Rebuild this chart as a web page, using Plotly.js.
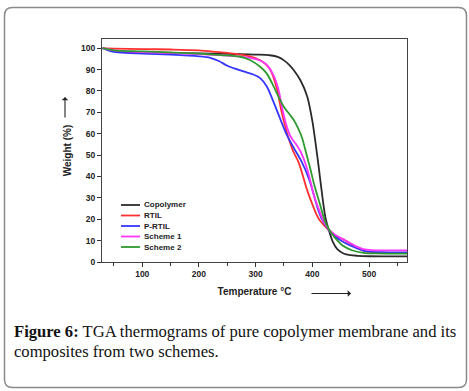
<!DOCTYPE html>
<html>
<head>
<meta charset="utf-8">
<script src="https://cdn.plot.ly/plotly-3.0.1.min.js"></script>
<style>
html,body{margin:0;padding:0;background:#fff;}
#chart{width:469px;height:391px;}
</style>
</head>
<body>
<div id="chart"></div>
<script>
// ---- Data ----
const seriesNames = ["Copolymer", "RTIL", "P-RTIL", "Scheme 1", "Scheme 2"];
const seriesColors = ["#2b2b2b", "#ff3030", "#3535ff", "#ff35ff", "#2f9a2f"];

const copolymerT = [30, 40, 50, 60, 80, 100, 150, 200, 250, 300, 325, 340, 350, 360, 367, 379, 391, 400, 405, 411, 418, 423, 429, 436, 444, 455, 467, 480, 500, 540, 567];
const copolymerW = [100, 99.2, 98.6, 98.3, 98.1, 98.0, 97.8, 97.6, 97.3, 97.0, 96.7, 95.8, 94.3, 92.0, 89.8, 85.0, 77.4, 66.0, 57.0, 45.0, 30.0, 21.0, 15.0, 9.5, 6.0, 4.0, 3.2, 2.9, 2.7, 2.6, 2.6];

const rtilT = [30, 50, 100, 150, 200, 230, 260, 290, 308, 318, 326, 332, 338, 346, 358, 366, 376, 391, 400, 406, 413, 422, 432, 440, 454, 474, 490, 510, 540, 567];
const rtilW = [100, 99.8, 99.6, 99.4, 99.0, 98.3, 97.5, 96.2, 94.4, 92.5, 89.8, 86.0, 80.5, 70.0, 58.0, 52.0, 46.5, 33.5, 27.0, 23.0, 19.5, 16.8, 14.0, 12.3, 10.7, 7.5, 5.3, 4.5, 4.3, 4.3];

const prtilT = [30, 40, 50, 70, 100, 150, 200, 220, 235, 250, 265, 280, 295, 308, 320, 332, 344, 355, 367, 380, 394, 402, 409, 416, 425, 432, 445, 454, 475, 495, 520, 567];
const prtilW = [100, 99.0, 98.3, 97.8, 97.5, 97.0, 96.2, 95.5, 94.0, 91.8, 90.3, 89.0, 87.8, 86.0, 82.0, 74.5, 66.5, 59.5, 53.5, 47.5, 39.0, 32.0, 25.5, 20.5, 16.5, 14.0, 11.0, 9.5, 6.8, 5.0, 4.6, 4.5];

const scheme1T = [30, 50, 100, 150, 200, 250, 290, 310, 322, 332, 340, 348, 356, 362, 370, 379, 391, 403, 411, 420, 430, 440, 454, 474, 490, 505, 530, 567];
const scheme1W = [100, 99.0, 98.2, 97.8, 97.2, 96.5, 95.5, 94.0, 91.5, 87.0, 81.0, 70.5, 62.5, 58.5, 55.5, 51.8, 43.5, 31.0, 25.0, 19.0, 15.0, 12.8, 10.7, 7.8, 6.0, 5.5, 5.4, 5.4];

const scheme2T = [30, 50, 100, 150, 200, 240, 273, 290, 308, 320, 332, 340, 350, 360, 367, 375, 382, 390, 397, 403, 414, 423, 430, 438, 454, 470, 490, 510, 567];
const scheme2W = [100, 99.0, 98.5, 98.0, 97.5, 96.8, 96.0, 94.5, 91.3, 88.0, 82.0, 77.5, 72.5, 69.0, 66.5, 62.5, 58.0, 50.0, 43.0, 36.5, 26.5, 18.5, 15.0, 12.0, 7.6, 5.5, 4.3, 4.0, 3.9];

const xTicks = [100, 200, 300, 400, 500];
const yTicks = [0, 10, 20, 30, 40, 50, 60, 70, 80, 90, 100];

const captionBold = "Figure 6:";
const captionLine1 = " TGA thermograms of pure copolymer membrane and its";
const captionLine2 = "composites from two schemes.";

// ---- Layout geometry ----
const W = 469, H = 391;
const mL = 102, mR = 62, mT = 39, mB = 129;
const pw = W - mL - mR, ph = H - mT - mB;
const fx = px => (px - mL) / pw;
const fy = py => (H - mB - py) / ph;

const xs = [copolymerT, rtilT, prtilT, scheme1T, scheme2T];
const ys = [copolymerW, rtilW, prtilW, scheme1W, scheme2W];

const traces = seriesNames.map((n, i) => ({
  type: "scatter", mode: "lines", name: n,
  x: xs[i], y: ys[i],
  line: {color: seriesColors[i], width: 1.8, shape: "spline", smoothing: 0.8},
  showlegend: false, hoverinfo: "skip"
}));

const sans = "Liberation Sans, Arial, sans-serif";
const serif = "Liberation Serif, Times New Roman, serif";

const shapes = [];
const annotations = [];

// custom compact legend
seriesNames.forEach((n, i) => {
  const yy = 205 + i * 10.5;
  shapes.push({type: "line", xref: "paper", yref: "paper",
    x0: fx(121), x1: fx(140), y0: fy(yy), y1: fy(yy),
    line: {color: seriesColors[i], width: 1.8}});
  annotations.push({xref: "paper", yref: "paper", x: fx(142), y: fy(yy),
    xanchor: "left", yanchor: "middle", showarrow: false, text: n,
    font: {family: sans, size: 8, color: "#222", weight: "bold"}});
});

// axis arrows
annotations.push({xref: "paper", yref: "paper", x: fx(65), y: fy(97), ax: 0, ay: 22,
  showarrow: true, arrowhead: 1, arrowsize: 1, arrowwidth: 1.1, arrowcolor: "#222", text: ""});
annotations.push({xref: "paper", yref: "paper", x: fx(351), y: fy(293.5), ax: -41, ay: 0,
  showarrow: true, arrowhead: 1, arrowsize: 1, arrowwidth: 1.1, arrowcolor: "#222", text: ""});

// caption
annotations.push({xref: "paper", yref: "paper", x: fx(12), y: fy(331), xanchor: "left", yanchor: "middle",
  showarrow: false, text: "<b>" + captionBold + "</b>" + captionLine1,
  font: {family: serif, size: 16.6, color: "#111"}});
annotations.push({xref: "paper", yref: "paper", x: fx(12), y: fy(351), xanchor: "left", yanchor: "middle",
  showarrow: false, text: captionLine2,
  font: {family: serif, size: 16.6, color: "#111"}});

// rounded frame
const r = 8, L = 4.5, T = 7.5, R = 466.5, B = 387.5;
const P = (px, py) => fx(px) + "," + fy(py);
shapes.push({type: "path", xref: "paper", yref: "paper", layer: "above",
  path: "M" + P(L + r, T) + " L" + P(R - r, T) + " Q" + P(R, T) + " " + P(R, T + r) +
        " L" + P(R, B - r) + " Q" + P(R, B) + " " + P(R - r, B) +
        " L" + P(L + r, B) + " Q" + P(L, B) + " " + P(L, B - r) +
        " L" + P(L, T + r) + " Q" + P(L, T) + " " + P(L + r, T) + " Z",
  line: {color: "#8a8a8a", width: 1.5}});

const layout = {
  width: W, height: H,
  margin: {l: mL, r: mR, t: mT, b: mB, pad: 0},
  paper_bgcolor: "#fff", plot_bgcolor: "#fff",
  showlegend: false,
  xaxis: {
    range: [29, 567], tickvals: xTicks, ticktext: xTicks.map(String),
    ticks: "outside", ticklen: 4, tickwidth: 1, tickcolor: "#333",
    minor: {dtick: 50, tick0: 0, ticks: "outside", ticklen: 3, tickcolor: "#333", tickwidth: 1, showgrid: false},
    showline: true, linecolor: "#444", linewidth: 1, mirror: true,
    showgrid: false, zeroline: false,
    tickfont: {family: sans, size: 8.5, color: "#222", weight: "bold"},
    title: {text: "Temperature °C", standoff: 9, font: {family: sans, size: 10, color: "#222", weight: "bold"}},
    automargin: false
  },
  yaxis: {
    range: [0, 104.3], tickvals: yTicks, ticktext: yTicks.map(String),
    ticks: "outside", ticklen: 4, tickwidth: 1, tickcolor: "#333",
    showline: true, linecolor: "#444", linewidth: 1, mirror: true,
    showgrid: false, zeroline: false,
    tickfont: {family: sans, size: 8.5, color: "#222", weight: "bold"},
    title: {text: "Weight (%)", standoff: 7, font: {family: sans, size: 10, color: "#222", weight: "bold"}},
    automargin: false
  },
  shapes: shapes,
  annotations: annotations
};

Plotly.newPlot("chart", traces, layout, {staticPlot: true, displayModeBar: false});
</script>
</body>
</html>
